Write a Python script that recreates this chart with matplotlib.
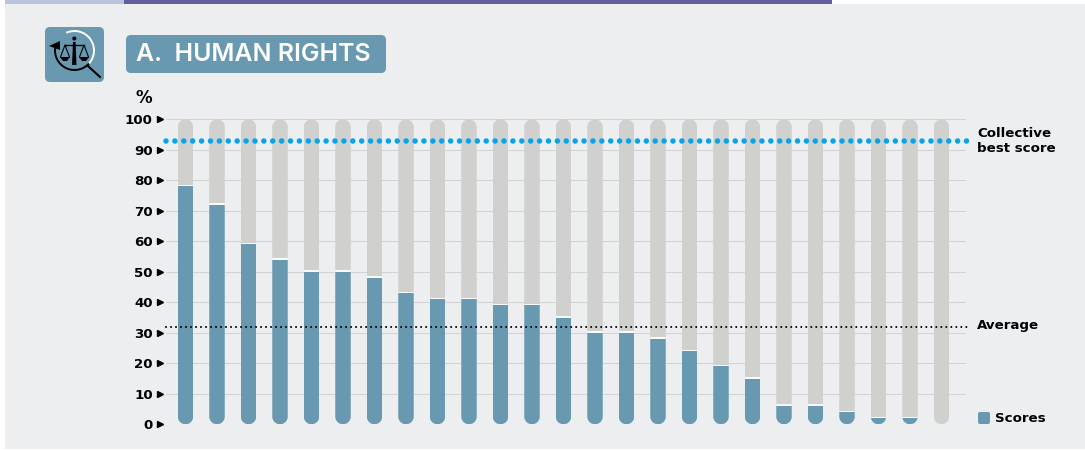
import matplotlib
matplotlib.use('Agg')
import matplotlib.pyplot as plt
import numpy as np
from matplotlib.patches import FancyBboxPatch, Rectangle, Arc, Circle, Polygon, PathPatch
from matplotlib.path import Path

scores = [78, 72, 59, 54, 50, 50, 48, 43, 41, 41, 39, 39, 35, 30, 30, 28, 24, 19, 15, 6, 6, 4, 2, 2, 0]
track = [100] * len(scores)
y_ticks = [0, 10, 20, 30, 40, 50, 60, 70, 80, 90, 100]
best_score = 93
average = 32

blue = '#6899B1'
grey = '#D0D0CE'
panel = '#EDEEF0'
label_font = 'DejaVu Sans'
plt.rcParams['font.family'] = ['Inter', 'DejaVu Sans']

fig = plt.figure(figsize=(10.85, 4.5), dpi=100, facecolor='white')

# page furniture, in pixel coords
bg = fig.add_axes([0, 0, 1, 1], zorder=0)
bg.set_xlim(0, 1085)
bg.set_ylim(450, 0)
bg.axis('off')
bg.add_patch(Rectangle((5, 4), 1080, 445, color=panel, lw=0))
bg.add_patch(Rectangle((5, 0), 119, 3.5, color='#B9C3DD', lw=0))
bg.add_patch(Rectangle((124, 0), 708, 3.5, color='#5F5F9B', lw=0))

# icon
bg.add_patch(FancyBboxPatch((48, 30), 53, 49, boxstyle='round,pad=3,rounding_size=5', color=blue, lw=0))
bg.add_patch(Arc((74.5, 50.5), 39, 39, theta1=-115, theta2=42, color='white', lw=1.4))
bg.add_patch(Arc((74.5, 50.5), 39, 39, theta1=42, theta2=190, color='black', lw=1.4))
bg.add_patch(Polygon([[49, 46], [60, 41], [60, 50]], color='black', lw=0))
bg.plot([88, 100], [66, 77], color='black', lw=1.5)
bg.add_patch(Polygon([[73, 42], [75.5, 42], [76.5, 65], [72, 65]], color='black', lw=0))
bg.add_patch(Circle((74.3, 38.5), 2, color='black', lw=0))
bg.plot([65, 84], [45, 45], color='black', lw=1)
bg.plot([60.5, 65, 69.5], [57, 45, 57], color='black', lw=0.8)
bg.plot([79.5, 84, 88.5], [57, 45, 57], color='black', lw=0.8)
bg.add_patch(Polygon([[60, 57], [70, 57], [67, 61], [63, 61]], color='black', lw=0))
bg.add_patch(Polygon([[79, 57], [89, 57], [86, 61], [82, 61]], color='black', lw=0))

# title box
bg.add_patch(FancyBboxPatch((130, 39), 252, 30, boxstyle='round,pad=4,rounding_size=5', color=blue, lw=0))
bg.text(136, 54.5, 'A.  HUMAN RIGHTS', color='white', fontsize=17.9, fontweight='semibold', va='center', ha='left')

bg.text(144, 98, '%', fontsize=12, fontweight='bold', family=label_font, ha='center', va='center', color='black')
bg.text(977, 141, 'Collective\nbest score', fontsize=9.6, fontweight='bold', family=label_font, ha='left',
        va='center', color='black', linespacing=1.15)
bg.text(977, 325, 'Average', fontsize=9.6, fontweight='bold', family=label_font, ha='left', va='center', color='black')
bg.add_patch(FancyBboxPatch((979, 413), 10, 10, boxstyle='round,pad=1,rounding_size=2', color=blue, lw=0))
bg.text(995, 418, 'Scores', fontsize=9.6, fontweight='bold', family=label_font, ha='left', va='center', color='black')

# chart
left, right = 166, 966
top, bottom = 119.3, 424.3
ax = fig.add_axes([left / 1085, 1 - bottom / 450, (right - left) / 1085, (bottom - top) / 450], zorder=1)
ax.patch.set_alpha(0)
x = np.arange(len(scores))
px_per_x = 31.5
xmin = -(185.5 - left) / px_per_x
ax.set_xlim(xmin, xmin + (right - left) / px_per_x)
ax.set_ylim(0, 100)
for s in ax.spines.values():
    s.set_visible(False)
ax.set_xticks([])
ax.set_yticks(y_ticks)
ax.set_yticklabels([str(t) for t in y_ticks])
ax.tick_params(axis='y', length=0, pad=9.6, labelsize=9.6, labelfontfamily=label_font, labelcolor='black')
for lab in ax.get_yticklabels():
    lab.set_fontweight('bold')
ax.grid(axis='y', color='#D2D3D4', lw=0.75)
ax.set_axisbelow(True)

ax.plot([-0.008] * len(y_ticks), y_ticks, ls='none', marker='>', ms=4.6, color='black',
        transform=ax.get_yaxis_transform(), clip_on=False)

bar_w = 15.5 / px_per_x
rx = bar_w / 2
ry = rx * px_per_x * 100 / (bottom - top)
k = 0.5523


def pill(cx, h):
    # bar outline with real round caps at both ends
    verts = [(cx - rx, ry), (cx - rx, h - ry),
             (cx - rx, h - ry + k * ry), (cx - k * rx, h), (cx, h),
             (cx + k * rx, h), (cx + rx, h - ry + k * ry), (cx + rx, h - ry),
             (cx + rx, ry),
             (cx + rx, ry - k * ry), (cx + k * rx, 0), (cx, 0),
             (cx - k * rx, 0), (cx - rx, ry - k * ry), (cx - rx, ry),
             (cx - rx, ry)]
    codes = [Path.MOVETO, Path.LINETO] + [Path.CURVE4] * 6 + [Path.LINETO] + [Path.CURVE4] * 6 + [Path.CLOSEPOLY]
    return PathPatch(Path(verts, codes), transform=ax.transData)


score_tops = [s + 0.5 if s > 0 else 0 for s in scores]
back = ax.bar(x, track, width=bar_w, color=grey, zorder=2)
gap = ax.bar(x, score_tops, width=bar_w, color='#F8F9F9', zorder=3)
front = ax.bar(x, scores, width=bar_w, color=blue, zorder=4)
for i in range(len(scores)):
    clip = pill(x[i], track[i])
    back[i].set_clip_path(clip)
    gap[i].set_clip_path(clip)
    front[i].set_clip_path(clip)

ax.plot([xmin, xmin + 802 / px_per_x], [best_score, best_score], color='#08A4EA', lw=4.0,
        ls=(0, (0.001, 1.6)), dash_capstyle='round', zorder=5, clip_on=False)
ax.plot([xmin, xmin + 802 / px_per_x], [average, average], color='black', lw=1.5,
        ls=(0, (0.001, 2.4)), dash_capstyle='round', zorder=5, clip_on=False)

fig.savefig('out.png', dpi=100, facecolor='white')
